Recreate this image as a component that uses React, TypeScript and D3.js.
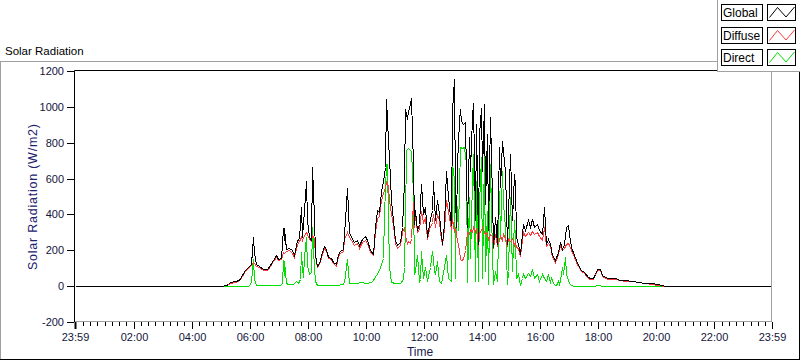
import React, { useEffect, useRef } from "react";
import * as d3 from "d3";

// minutes since midnight, W/m2
const globalData: [number, number][] = [
  [-1, 0], [280, 0], [300, 2], [310, 4], [316, 12], [320, 22], [330, 26], [337, 37], [344, 61], [351, 89],
  [358, 111], [362, 126], [366, 274], [369, 183], [373, 122], [380, 111], [388, 93], [395, 98], [402, 117],
  [409, 148], [414, 172], [419, 154], [424, 159], [428, 326], [430, 260], [431, 326], [435, 209], [442, 215],
  [447, 200], [452, 172], [457, 256], [462, 265], [465, 441], [468, 274], [472, 422], [476, 589], [479, 367],
  [483, 274], [486, 256], [489, 667], [492, 385], [495, 181], [500, 111], [504, 130], [509, 191], [513, 222],
  [518, 209], [522, 163], [528, 159], [533, 135], [538, 122], [542, 181], [546, 195], [552, 209], [555, 283],
  [561, 545], [565, 300], [570, 274], [575, 246], [581, 256], [586, 228], [591, 265], [598, 278], [603, 256],
  [608, 200], [614, 178], [619, 330], [623, 422], [628, 413], [632, 533], [636, 589], [639, 663], [642, 1043],
  [645, 811], [648, 718], [652, 478], [655, 367], [660, 256], [665, 228], [670, 246], [675, 330], [679, 589],
  [681, 987], [684, 932], [687, 978], [691, 1015], [694, 1048], [697, 682], [699, 348], [702, 422], [706, 311],
  [710, 348], [713, 570], [717, 404], [722, 441], [727, 274], [731, 348], [736, 422], [739, 589], [743, 367],
  [747, 478], [751, 404], [753, 330], [757, 237], [761, 348], [765, 644], [770, 496], [775, 339], [778, 978],
  [781, 1154], [784, 496], [786, 330], [789, 682], [792, 922], [794, 987], [797, 922], [801, 904], [805, 913],
  [808, 330], [812, 830], [815, 644], [819, 941], [822, 1024], [825, 367], [828, 904], [831, 237], [834, 848],
  [837, 996], [840, 644], [843, 1015], [847, 459], [850, 848], [853, 311], [857, 941], [860, 496], [863, 218],
  [867, 385], [870, 237], [874, 774], [877, 552], [881, 811], [884, 756], [888, 644], [891, 237], [894, 404],
  [898, 737], [901, 367], [905, 626], [908, 570], [911, 274], [915, 237], [918, 181], [922, 293], [925, 348],
  [929, 311], [934, 367], [938, 330], [943, 376], [947, 330], [953, 348], [958, 311], [963, 293], [968, 440],
  [972, 237], [976, 265], [980, 237], [985, 172], [991, 144], [996, 191], [1001, 246], [1006, 209], [1010, 237],
  [1013, 330], [1017, 339], [1020, 293], [1024, 218], [1029, 172], [1034, 144], [1039, 117], [1044, 89],
  [1051, 80], [1058, 52], [1063, 43], [1070, 43], [1073, 70], [1077, 98], [1084, 93], [1088, 61], [1094, 52],
  [1101, 43], [1108, 46], [1115, 43], [1125, 37], [1135, 33], [1149, 30], [1163, 24], [1177, 20], [1190, 15],
  [1204, 11], [1218, 2], [1225, 0], [1439, 0],
];

const diffuseData: [number, number][] = [
  [280, 0], [300, 2], [310, 4], [316, 10], [320, 20], [330, 24], [337, 34], [344, 57], [351, 84], [358, 105],
  [362, 118], [366, 135], [369, 128], [373, 115], [380, 104], [388, 88], [395, 92], [402, 110], [409, 138],
  [414, 160], [419, 148], [424, 150], [428, 191], [431, 185], [435, 195], [442, 200], [447, 185], [452, 165],
  [457, 237], [462, 250], [465, 274], [468, 260], [472, 285], [476, 302], [479, 293], [483, 265], [486, 250],
  [489, 283], [492, 270], [495, 170], [500, 105], [504, 122], [509, 180], [513, 210], [518, 198], [522, 155],
  [528, 150], [533, 128], [538, 115], [542, 170], [546, 185], [552, 198], [555, 265], [561, 300], [565, 274],
  [570, 255], [575, 232], [581, 240], [586, 215], [591, 248], [598, 260], [603, 240], [608, 188], [614, 172],
  [619, 300], [623, 380], [628, 390], [632, 480], [636, 520], [639, 555], [642, 580], [645, 560], [648, 478],
  [652, 400], [655, 340], [660, 240], [665, 215], [670, 232], [675, 300], [679, 330], [681, 280], [684, 240],
  [687, 250], [691, 240], [694, 270], [697, 470], [699, 330], [702, 400], [706, 300], [710, 320], [713, 420],
  [717, 360], [722, 380], [727, 265], [731, 320], [736, 360], [739, 400], [743, 330], [747, 400], [751, 370],
  [753, 300], [757, 230], [761, 320], [765, 480], [770, 420], [775, 320], [778, 380], [781, 300], [784, 330],
  [786, 290], [789, 260], [792, 200], [794, 150], [797, 145], [801, 150], [805, 200], [808, 300], [812, 290],
  [815, 320], [819, 300], [822, 330], [825, 310], [828, 320], [831, 225], [834, 300], [837, 310], [840, 330],
  [843, 300], [847, 290], [850, 300], [853, 260], [857, 290], [860, 280], [863, 210], [867, 290], [870, 230],
  [874, 260], [877, 280], [881, 260], [884, 290], [888, 270], [891, 225], [894, 270], [898, 250], [901, 270],
  [905, 230], [908, 250], [911, 220], [915, 210], [918, 170], [922, 260], [925, 300], [929, 280], [934, 300],
  [938, 285], [943, 310], [947, 290], [953, 300], [958, 280], [963, 260], [968, 330], [972, 225], [976, 240],
  [980, 225], [985, 160], [991, 135], [996, 180], [1001, 225], [1006, 200], [1010, 215], [1013, 235], [1017, 240],
  [1020, 230], [1024, 200], [1029, 160], [1034, 135], [1039, 110], [1044, 84], [1051, 75], [1058, 48], [1063, 38],
  [1070, 40], [1073, 65], [1077, 90], [1084, 88], [1088, 57], [1094, 48], [1101, 38], [1108, 42], [1115, 40],
  [1125, 34], [1135, 30], [1149, 27], [1163, 21], [1177, 17], [1190, 12], [1204, 8], [1218, 2], [1225, 0],
];

const directData: [number, number][] = [
  [285, 0], [300, 0], [355, 2], [360, 8], [363, 30], [366, 154], [369, 40], [373, 5], [380, 4], [400, 5],
  [420, 6], [426, 10], [428, 144], [430, 60], [431, 140], [434, 20], [440, 10], [450, 12], [455, 26], [460, 15],
  [463, 40], [465, 191], [467, 100], [470, 50], [472, 160], [476, 274], [479, 120], [482, 65], [486, 80],
  [489, 330], [492, 100], [495, 26], [500, 8], [510, 6], [520, 8], [530, 5], [540, 8], [550, 10], [555, 20],
  [561, 150], [565, 20], [570, 18], [580, 15], [590, 22], [600, 18], [610, 25], [615, 35], [620, 60], [625, 80],
  [630, 107], [635, 157], [638, 400], [641, 683], [643, 680], [645, 367], [648, 107], [652, 25], [660, 18],
  [670, 15], [677, 40], [679, 107], [681, 367], [683, 760], [688, 770], [693, 756], [697, 517], [699, 65],
  [702, 90], [705, 176], [709, 30], [712, 40], [714, 195], [717, 45], [722, 107], [727, 30], [732, 107],
  [737, 195], [741, 90], [743, 65], [746, 140], [750, 30], [756, 20], [761, 107], [766, 176], [770, 45],
  [775, 30], [778, 682], [781, 600], [784, 46], [787, 496], [791, 311], [794, 774], [798, 770], [803, 774],
  [806, 682], [808, 25], [812, 496], [815, 157], [819, 589], [822, 737], [825, 30], [828, 589], [831, 30],
  [834, 459], [837, 718], [840, 46], [843, 737], [847, 83], [850, 420], [853, 10], [857, 682], [860, 176],
  [863, 10], [867, 83], [870, 30], [874, 532], [877, 270], [881, 644], [884, 459], [888, 330], [891, 10],
  [894, 83], [898, 496], [901, 83], [905, 370], [908, 270], [911, 46], [915, 65], [918, 5], [922, 46], [925, 65],
  [929, 46], [934, 74], [938, 55], [943, 93], [947, 46], [953, 65], [958, 28], [963, 65], [968, 46], [972, 28],
  [976, 65], [980, 18], [983, 52], [986, 18], [990, 5], [993, 5], [996, 28], [999, 10], [1002, 37], [1005, 107],
  [1008, 65], [1011, 163], [1014, 65], [1017, 37], [1020, 18], [1024, 8], [1030, 3], [1050, 2], [1070, 3],
  [1080, 5], [1090, 2], [1150, 1], [1214, 0],
];

const seriesNames = ["Global", "Diffuse", "Direct"];
const seriesColors = ["#000000", "#ff3a3a", "#00e000"];

const yTicks = [-200, 0, 200, 400, 600, 800, 1000, 1200];
const xTickMinutes = [-1, 120, 240, 360, 480, 600, 720, 840, 960, 1080, 1200, 1320, 1439];
const xTickLabels = ["23:59", "02:00", "04:00", "06:00", "08:00", "10:00", "12:00", "14:00", "16:00", "18:00", "20:00", "22:00", "23:59"];

const W = 800;
const H = 361;
const plot = { left: 75, right: 772, top: 71, bottom: 322 };
const font = "'Liberation Sans', Arial, sans-serif";

const App: React.FC = () => {
  const svgRef = useRef<SVGSVGElement | null>(null);

  useEffect(() => {
    if (!svgRef.current) return;
    const svg = d3.select(svgRef.current);
    svg.selectAll("*").remove();

    const x = d3.scaleLinear().domain([-1, 1439]).range([plot.left, plot.right]);
    const y = d3.scaleLinear().domain([-200, 1200]).range([plot.bottom, plot.top]);

    svg.append("rect").attr("width", W).attr("height", H).attr("fill", "#ffffff");

    // outer panel frame
    svg.append("line").attr("x1", 0).attr("x2", 718).attr("y1", 61.5).attr("y2", 61.5).attr("stroke", "#a0a0a0");
    svg.append("line").attr("x1", 0.5).attr("x2", 0.5).attr("y1", 61.5).attr("y2", 360).attr("stroke", "#a0a0a0");
    svg.append("line").attr("x1", 0).attr("x2", W).attr("y1", 359.5).attr("y2", 359.5).attr("stroke", "#000");
    svg.append("line").attr("x1", 799.5).attr("x2", 799.5).attr("y1", 70).attr("y2", 360).attr("stroke", "#000");

    svg
      .append("text")
      .attr("x", 5)
      .attr("y", 55)
      .attr("font-family", font)
      .attr("font-size", 11.5)
      .attr("fill", "#000")
      .text("Solar Radiation");

    // series, black drawn last so it sits on top
    const line = d3
      .line<[number, number]>()
      .x((d) => Math.round(x(d[0])) + 0.5)
      .y((d) => Math.round(y(d[1])) + 0.5);

    svg
      .append("clipPath")
      .attr("id", "plotclip")
      .append("rect")
      .attr("x", plot.left)
      .attr("y", plot.top)
      .attr("width", plot.right - plot.left)
      .attr("height", plot.bottom - plot.top);

    const g = svg.append("g").attr("clip-path", "url(#plotclip)");
    [directData, diffuseData, globalData].forEach((data, i) => {
      g.append("path")
        .datum(data)
        .attr("fill", "none")
        .attr("stroke", seriesColors[2 - i])
        .attr("stroke-width", 1)
        .attr("shape-rendering", "crispEdges")
        .attr("d", line);
    });

    // plot borders
    svg.append("line").attr("x1", plot.left - 0.5).attr("x2", 718).attr("y1", plot.top - 0.5).attr("y2", plot.top - 0.5).attr("stroke", "#000");
    svg.append("line").attr("x1", plot.left - 0.5).attr("x2", plot.left - 0.5).attr("y1", plot.top - 0.5).attr("y2", plot.bottom).attr("stroke", "#000");
    svg.append("line").attr("x1", plot.right - 0.5).attr("x2", plot.right - 0.5).attr("y1", plot.top).attr("y2", plot.bottom).attr("stroke", "#a0a0a0");
    svg.append("line").attr("x1", plot.left).attr("x2", plot.right).attr("y1", plot.bottom - 0.5).attr("y2", plot.bottom - 0.5).attr("stroke", "#a0a0a0");

    // y axis ticks
    yTicks.forEach((v) => {
      const yy = Math.round(y(v)) + 0.5;
      svg.append("line").attr("x1", 67).attr("x2", plot.left - 1).attr("y1", yy).attr("y2", yy).attr("stroke", "#000");
      svg
        .append("text")
        .attr("x", 64)
        .attr("y", yy)
        .attr("dy", "0.36em")
        .attr("text-anchor", "end")
        .attr("font-family", font)
        .attr("font-size", 11)
        .attr("fill", "#14143c")
        .text(v);
    });

    // x axis ticks: minor every 15 minutes
    d3.range(15, 1439, 15)
      .filter((m) => m % 120 !== 0)
      .forEach((m) => {
        const xx = Math.round(x(m)) + 0.5;
        svg.append("line").attr("x1", xx).attr("x2", xx).attr("y1", plot.bottom).attr("y2", plot.bottom + 4).attr("stroke", "#000");
      });
    xTickMinutes.forEach((m, i) => {
      const xx = Math.round(x(m)) + 0.5;
      svg
        .append("line")
        .attr("x1", xx)
        .attr("x2", xx)
        .attr("y1", plot.bottom)
        .attr("y2", plot.bottom + 7)
        .attr("stroke", "#000")
        .attr("stroke-width", i === 0 ? 2 : 1);
      svg
        .append("text")
        .attr("x", xx)
        .attr("y", 341)
        .attr("text-anchor", "middle")
        .attr("font-family", font)
        .attr("font-size", 11)
        .attr("fill", "#14143c")
        .text(xTickLabels[i]);
    });

    svg
      .append("text")
      .attr("transform", `translate(32,197) rotate(-90)`)
      .attr("text-anchor", "middle")
      .attr("dy", "0.36em")
      .attr("font-family", font)
      .attr("font-size", 12.5)
      .attr("textLength", 146)
      .attr("lengthAdjust", "spacing")
      .attr("fill", "#22226e")
      .text("Solar Radiation (W/m2)");

    svg
      .append("text")
      .attr("x", 420)
      .attr("y", 356)
      .attr("text-anchor", "middle")
      .attr("font-family", font)
      .attr("font-size", 12)
      .attr("fill", "#1a1a50")
      .text("Time");

    // legend
    const lg = svg.append("g");
    lg.append("rect").attr("x", 717.5).attr("y", -1).attr("width", 84).attr("height", 72.5).attr("fill", "#fff").attr("stroke", "#a0a0a0");
    seriesNames.forEach((name, i) => {
      const y0 = 4 + i * 22.67;
      const ry = Math.round(y0) + 0.5;
      lg.append("rect").attr("x", 721.5).attr("y", ry).attr("width", 41).attr("height", 16).attr("fill", "#fff").attr("stroke", "#000");
      lg.append("text")
        .attr("x", 723)
        .attr("y", ry + 12.5)
        .attr("font-family", font)
        .attr("font-size", 12)
        .attr("fill", "#000")
        .text(name);
      lg.append("rect").attr("x", 767.5).attr("y", ry).attr("width", 28).attr("height", 16).attr("fill", "#fff").attr("stroke", "#000");
      lg.append("path")
        .attr("d", `M769.5,${ry + 13} L777.5,${ry + 3} L786,${ry + 12.5} L794.5,${ry + 2.5}`)
        .attr("fill", "none")
        .attr("stroke", seriesColors[i])
        .attr("stroke-width", 1);
    });
  }, []);

  return (
    <svg
      ref={svgRef}
      width={W}
      height={H}
      style={{ position: "absolute", left: 0, top: 0, display: "block" }}
    />
  );
};

export default App;
